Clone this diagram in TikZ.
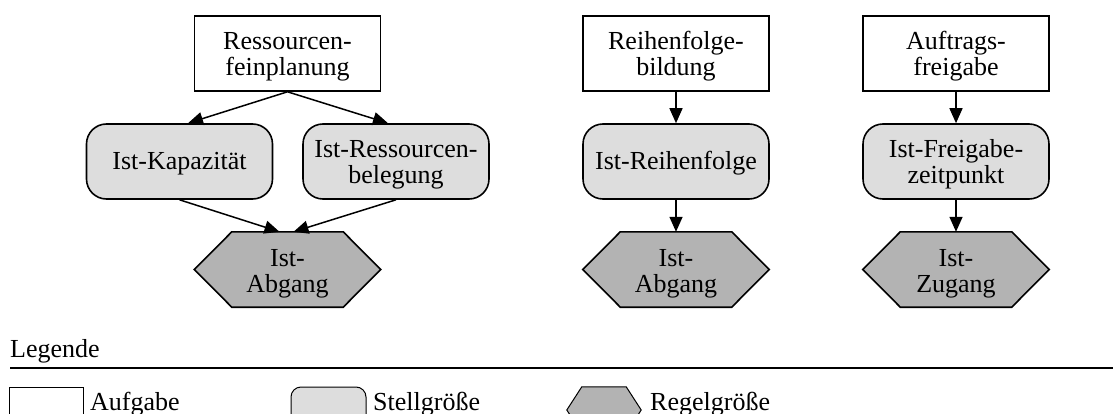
\documentclass[tikz,border=0pt]{standalone}
\usepackage{fontspec}
\setmainfont{Liberation Serif}
\usetikzlibrary{arrows.meta,backgrounds}
\definecolor{stellgrau}{RGB}{221,221,221}
\definecolor{regelgrau}{RGB}{179,179,179}
\newcommand{\diafont}{\fontsize{26pt}{26pt}\selectfont}
\tikzset{
  base/.style={font=\diafont, align=center, inner sep=0pt,
    minimum width=186pt, minimum height=75pt},
  oneline/.style={text height=23pt, text depth=6pt},
  twoline/.style={text height=51pt, text depth=6pt},
  aufgabe/.style={base, draw, line width=1.6pt, fill=white},
  stell/.style={base, draw, line width=1.6pt, fill=stellgrau, rounded corners=20pt},
  regel/.style={base},
  hexpath/.style={draw, line width=1.6pt, fill=regelgrau},
  pfeil/.style={line width=1.5pt, -{Triangle[length=15pt,width=13pt]}},
  legtext/.style={font=\diafont, anchor=base west, inner sep=0pt},
}
\begin{document}
\begin{tikzpicture}[x=1pt, y=-1pt]
  \useasboundingbox (0,0) rectangle (1113,414);
  \clip (0,0) rectangle (1113,414);

  % Column 1: Ressourcenfeinplanung
  \node[aufgabe, twoline] (rf) at (287.5,53.5) {Ressourcen-\\feinplanung};
  \node[stell, oneline] (kap) at (179.5,161.5) {Ist-Kapazität};
  \node[stell, twoline] (beleg) at (396,161.5) {Ist-Ressourcen-\\belegung};
  \node[regel, twoline] (ha) at (287.5,269.5) {Ist-\\Abgang};

  % Column 2: Reihenfolgebildung
  \node[aufgabe, twoline] (rb) at (676,53.5) {Reihenfolge-\\bildung};
  \node[stell, oneline] (ir) at (676,161.5) {Ist-Reihenfolge};
  \node[regel, twoline] (hb) at (676,269.5) {Ist-\\Abgang};

  % Column 3: Auftragsfreigabe
  \node[aufgabe, twoline] (af) at (956,53.5) {Auftrags-\\freigabe};
  \node[stell, twoline] (fz) at (956,161.5) {Ist-Freigabe-\\zeitpunkt};
  \node[regel, twoline] (hc) at (956,269.5) {Ist-\\Zugang};

  % Hexagons behind the Regelgröße texts
  \begin{scope}[on background layer]
    \foreach \h in {ha,hb,hc}{
      \path[hexpath] (\h.west) -- ([xshift=37.5]\h.north west)
        -- ([xshift=-37.5]\h.north east) -- (\h.east)
        -- ([xshift=-37.5]\h.south east) -- ([xshift=37.5]\h.south west) -- cycle;
    }
  \end{scope}

  % Connectors
  \draw[pfeil] (rf.south) -- ([xshift=8.5]kap.north);
  \draw[pfeil] (rf.south) -- ([xshift=-8]beleg.north);
  \draw[pfeil] (kap.south) -- ([xshift=-8]ha.north);
  \draw[pfeil] (beleg.south) -- ([xshift=6]ha.north);
  \draw[pfeil] (rb) -- (ir);
  \draw[pfeil] (ir) -- (hb);
  \draw[pfeil] (af) -- (fz);
  \draw[pfeil] (fz) -- (hc);

  % Legend
  \node[legtext] (leg) at (10,357) {Legende};
  \coordinate (linie) at (1113,368);
  \draw[line width=2.5pt] (10,368) -- (linie);

  \node[draw, line width=1pt, fill=white, minimum width=74pt, minimum height=46pt,
        inner sep=0pt] (lauf) at (46,410) {};
  \node[legtext] (tauf) at (90,410) {Aufgabe};

  \node[draw, line width=1pt, fill=stellgrau, rounded corners=10pt,
        minimum width=75pt, minimum height=46pt, inner sep=0pt] (lstell) at (328.5,410) {};
  \node[legtext] (tstell) at (373,410) {Stellgröße};

  \node[minimum width=74pt, minimum height=46pt, inner sep=0pt] (lregel) at (604,410) {};
  \path[draw, line width=1pt, fill=regelgrau] (lregel.west) -- ([xshift=15]lregel.north west)
    -- ([xshift=-15]lregel.north east) -- (lregel.east)
    -- ([xshift=-15]lregel.south east) -- ([xshift=15]lregel.south west) -- cycle;
  \node[legtext] (tregel) at (650,410) {Regelgröße};
\end{tikzpicture}
\end{document}
